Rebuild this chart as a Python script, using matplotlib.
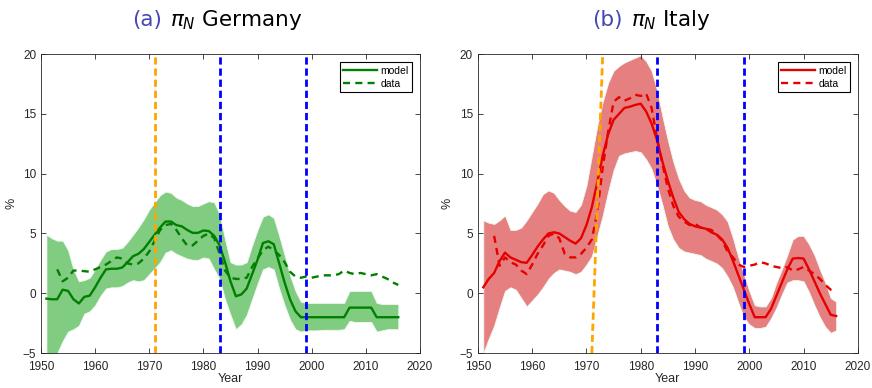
import numpy as np
import matplotlib
matplotlib.use("Agg")
import matplotlib.pyplot as plt

plt.rcParams['font.family'] = ['Liberation Sans', 'DejaVu Sans']

# Data
years = np.arange(1951, 2017)
data_years = np.arange(1953, 2017)

de_model = [-0.45, -0.5, -0.5, 0.3, 0.2, -0.5, -0.85, -0.3, -0.2, 0.5,
            1.3, 2.0, 2.05, 2.05, 2.15, 2.6, 3.1, 3.3, 3.7, 4.3,
            4.9, 5.5, 6.0, 6.0, 5.7, 5.6, 5.3, 5.05, 5.05, 5.25,
            5.2, 4.8, 4.0, 2.6, 1.0, -0.25, -0.1, 0.4, 1.6, 2.8,
            4.2, 4.35, 4.1, 2.5, 0.9, -0.5, -1.5, -2.0, -2.0, -2.0,
            -2.0, -2.0, -2.0, -2.0, -2.0, -2.0, -1.2, -1.2, -1.2, -1.2,
            -1.2, -2.0, -2.0, -2.0, -2.0, -2.0]
de_upper = [4.9, 4.6, 4.4, 4.4, 3.6, 2.0, 1.0, 1.1, 1.3, 2.0,
            2.8, 3.5, 3.7, 3.7, 3.8, 4.3, 4.9, 5.5, 6.2, 7.0,
            7.6, 8.2, 8.5, 8.4, 8.0, 7.8, 7.5, 7.3, 7.3, 7.5,
            7.7, 7.6, 6.6, 4.5, 2.6, 2.4, 2.4, 2.6, 4.0, 5.3,
            6.4, 6.6, 6.3, 4.8, 3.2, 1.5, 0.2, -0.7, -0.8, -0.8,
            -0.8, -0.8, -0.8, -0.8, -0.8, -0.8, 0.2, 0.2, 0.2, 0.2,
            0.2, -0.8, -0.9, -0.9, -0.9, -0.9]
de_lower = [-7.0, -6.0, -5.0, -4.0, -3.2, -3.0, -2.7, -1.7, -1.5, -1.0,
            -0.2, 0.4, 0.5, 0.5, 0.6, 0.9, 1.1, 1.0, 1.1, 1.6,
            2.1, 2.6, 3.4, 3.6, 3.3, 3.1, 2.9, 2.8, 2.8, 3.0,
            2.9, 2.0, 1.2, -0.5, -1.8, -3.0, -2.6, -1.8, -0.5, 0.8,
            2.0, 2.2, 2.0, 0.4, -1.0, -2.2, -3.0, -3.2, -3.1, -3.1,
            -3.1, -3.05, -3.05, -3.05, -3.05, -3.0, -2.3, -2.4, -2.4, -2.4,
            -2.4, -3.2, -3.1, -3.0, -3.0, -3.0]
de_data = [2.0, 1.0, 1.3, 1.9, 1.9, 1.85, 1.8,
           2.0, 2.2, 2.4, 2.7, 3.0, 2.9, 2.5, 2.4, 2.5, 2.9,
           3.5, 4.4, 5.3, 5.7, 5.8, 5.3, 4.6, 4.0, 4.0, 4.4,
           4.8, 5.0, 4.6, 3.3, 1.9, 1.3, 1.2, 1.2, 1.3, 2.2,
           2.9, 3.6, 3.9, 3.6, 3.2, 2.6, 1.8, 1.4, 1.3, 1.4,
           1.3, 1.4, 1.5, 1.5, 1.5, 1.6, 1.9, 1.7, 1.6, 1.7,
           1.6, 1.5, 1.6, 1.4, 1.2, 0.9, 0.7]

it_model = [0.5, 1.2, 1.7, 2.7, 3.4, 3.0, 2.8, 2.6, 2.55, 3.2,
            3.9, 4.5, 5.0, 5.1, 5.0, 4.7, 4.4, 4.15, 4.6, 5.7,
            7.2, 9.3, 11.5, 13.3, 14.5, 15.0, 15.5, 15.6, 15.75, 15.85,
            15.2, 14.2, 12.8, 11.0, 9.4, 8.0, 6.8, 6.2, 5.8, 5.6,
            5.5, 5.4, 5.1, 4.9, 4.5, 3.8, 2.7, 1.5, 0.3, -0.9,
            -2.0, -2.0, -2.0, -1.3, -0.2, 0.9, 2.0, 2.9, 2.95, 2.9,
            2.0, 1.0, 0.0, -0.9, -1.8, -1.9]
it_upper = [6.1, 5.9, 5.8, 6.1, 6.5, 5.3, 5.3, 5.5, 6.1, 6.8,
            7.5, 8.3, 8.6, 8.4, 7.8, 7.3, 6.9, 6.8, 7.4, 9.0,
            11.5, 14.0, 16.0, 17.6, 18.6, 19.0, 19.3, 19.5, 19.7, 19.9,
            19.4, 18.6, 17.0, 14.8, 12.8, 11.0, 9.6, 8.6, 8.0, 7.8,
            7.7, 7.4, 7.2, 7.0, 6.6, 6.0, 4.6, 3.0, 1.6, 0.2,
            -1.0, -1.1, -1.1, -0.4, 0.9, 2.0, 3.2, 4.5, 4.8, 4.8,
            4.1, 3.2, 2.0, 0.9, -0.4, -0.7]
it_lower = [-5.0, -3.8, -2.7, -1.2, 0.2, 0.5, 0.3, -0.4, -1.1, -0.6,
            -0.1, 0.5, 1.2, 1.7, 2.0, 1.9, 1.8, 1.6, 1.8, 2.4,
            3.1, 4.8, 6.5, 8.5, 10.3, 11.5, 11.7, 11.8, 11.9, 11.8,
            11.2, 10.4, 9.0, 7.4, 5.6, 4.5, 3.8, 3.5, 3.4, 3.3,
            3.2, 2.9, 2.7, 2.5, 2.1, 1.4, 0.5, -0.8, -2.0, -2.6,
            -2.9, -2.9, -2.8, -2.1, -1.2, -0.1, 0.9, 1.1, 1.1, 1.0,
            0.1, -1.0, -2.0, -2.8, -3.3, -3.1]
it_data = [4.8, 2.3, 3.0, 2.6, 2.4, 1.9, 1.6,
           2.4, 3.3, 4.0, 4.8, 5.0, 4.6, 3.3, 3.0, 3.0, 3.3,
           3.8, 4.5, 6.8, 10.5, 13.5, 16.0, 16.4, 16.1, 16.3, 16.6,
           16.5, 16.7, 15.5, 13.0, 10.8, 8.8, 7.3, 6.4, 6.0, 5.7,
           5.8, 5.5, 5.4, 5.3, 4.9, 4.4, 3.5, 3.0, 2.4, 2.2,
           2.3, 2.4, 2.6, 2.5, 2.3, 2.2, 2.1, 2.2, 1.9, 2.0,
           2.2, 1.9, 1.6, 1.2, 0.7, 0.3, 0.1]

# vertical markers: (x at bottom, x at top, colour)
de_vlines = [(1971, 1971, '#ffa500'), (1983, 1983, '#0000ff'), (1999, 1999, '#0000ff')]
it_vlines = [(1971, 1973, '#ffa500'), (1983, 1983, '#0000ff'), (1999, 1999, '#0000ff')]

axis_col = '#262626'

fig = plt.figure(figsize=(8.72, 3.88), dpi=100)
ax1 = fig.add_axes([0.047, 0.090, 0.4346, 0.7706])
ax2 = fig.add_axes([0.548, 0.090, 0.4358, 0.7706])


def draw_panel(ax, model, upper, lower, data, vlines, fill_col, line_col):
    ax.fill_between(years, lower, upper, color=fill_col, lw=0.6, edgecolor='#f0f8f0', zorder=1)
    ax.plot(years, model, color=line_col, lw=1.7, label='model', zorder=3)
    ax.plot(data_years, data, color=line_col, lw=1.7, ls='--', dashes=(3, 2.2),
            label='data', zorder=3)
    for xb, xt, c in vlines:
        ax.plot([xb, xt], [-5, 20], color=c, lw=2, dashes=(2.6, 1.4), zorder=4)
    ax.set_xlim(1950, 2020)
    ax.set_ylim(-5, 20)
    ax.set_xticks(np.arange(1950, 2021, 10))
    ax.set_yticks(np.arange(-5, 21, 5))
    ax.tick_params(direction='in', top=True, right=True, labelsize=8.5,
                   colors=axis_col, length=3.5, width=0.6)
    ax.tick_params(axis='x', pad=5.5)
    for s in ax.spines.values():
        s.set_color(axis_col)
        s.set_linewidth(0.6)
    ax.set_xlabel('Year', fontsize=9, color=axis_col, labelpad=0)
    ax.set_ylabel('%', fontsize=9, color=axis_col, labelpad=4)
    leg = ax.legend(loc='upper right', fontsize=7.5, fancybox=False, framealpha=1,
                    edgecolor='black', handlelength=3.3, borderaxespad=0.8,
                    borderpad=0.3, labelspacing=0.3, handletextpad=0.3)
    leg.get_frame().set_linewidth(0.8)


draw_panel(ax1, de_model, de_upper, de_lower, de_data, de_vlines, '#80cc80', '#008000')
draw_panel(ax2, it_model, it_upper, it_lower, it_data, it_vlines, '#e68080', '#e60000')

# titles: coloured subfigure tag followed by black text
fig.canvas.draw()
for x, tag, name in [(0.151, '(a)', r'$\pi_N$ Germany'), (0.679, '(b)', r'$\pi_N$ Italy')]:
    t = fig.text(x, 0.948, tag, fontsize=15.5, color='#4646b4', family='DejaVu Sans',
                 va='center', ha='left')
    bb = t.get_window_extent(renderer=fig.canvas.get_renderer())
    fig.text(bb.x1 / fig.bbox.width + 0.010, 0.948, name, fontsize=15.5,
             family='DejaVu Sans', va='center', ha='left')

fig.savefig('out.png', dpi=100)
